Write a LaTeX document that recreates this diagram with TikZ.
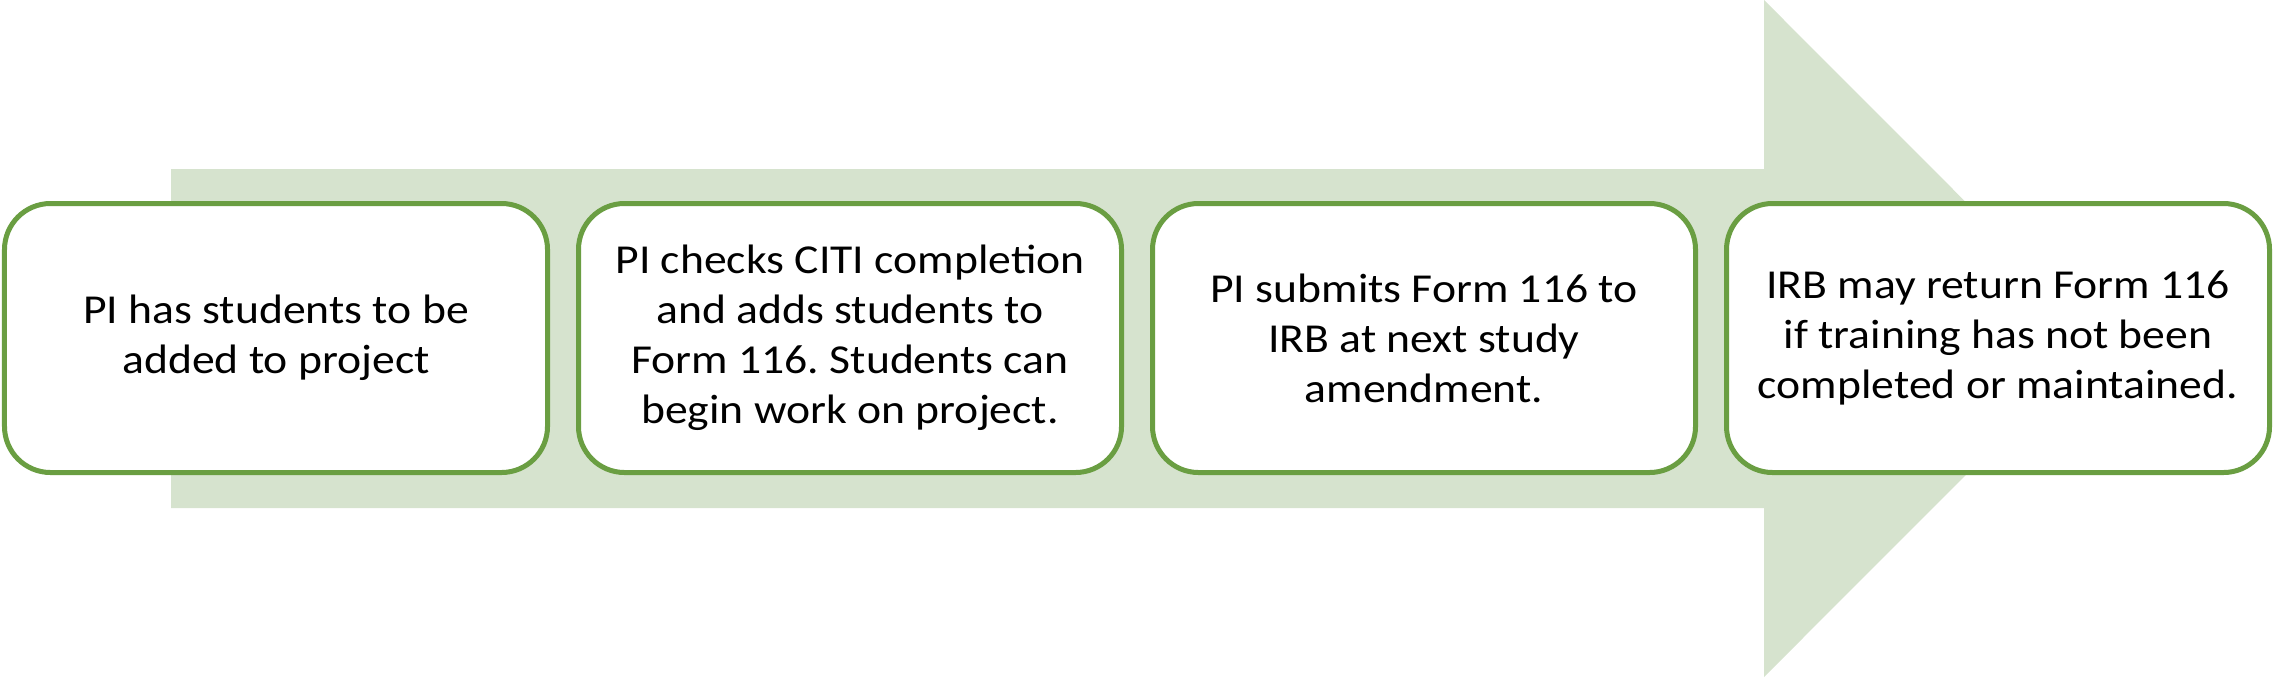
\documentclass[tikz,border=0pt]{standalone}
\usepackage{fontspec}
\setmainfont{Carlito}[FakeStretch=1.11]
\frenchspacing
\definecolor{arrowfill}{HTML}{D6E3CE}
\definecolor{boxline}{HTML}{6A9E42}
\tikzset{
  stepbox/.style={draw=boxline, line width=0.05cm, fill=white, rounded corners=0.46cm,
    minimum width=5.43cm, minimum height=2.69cm, align=center, inner sep=0pt,
    font=\fontsize{11.7}{14.2}\selectfont},
}
\begin{document}
\begin{tikzpicture}
\useasboundingbox (0,0) rectangle (22.76,6.77);
\fill[arrowfill] (1.71,1.69) -- (1.71,5.08) -- (17.64,5.08) -- (17.64,6.77) -- (21.02,3.385) -- (17.64,0) -- (17.64,1.69) -- cycle;
\node[stepbox] (s1) at (2.76,3.39) {PI has students to be\\added to project};
\node[stepbox] (s2) at (8.50,3.39) {PI checks CITI completion\\and adds students to\\Form 116. Students can\\begin work on project.};
\node[stepbox] (s3) at (14.24,3.39) {PI submits Form 116 to\\IRB at next study\\amendment.};
\node[stepbox] (s4) at (19.98,3.39) {IRB may return Form 116\\if training has not been\\completed or maintained.};
\end{tikzpicture}
\end{document}
